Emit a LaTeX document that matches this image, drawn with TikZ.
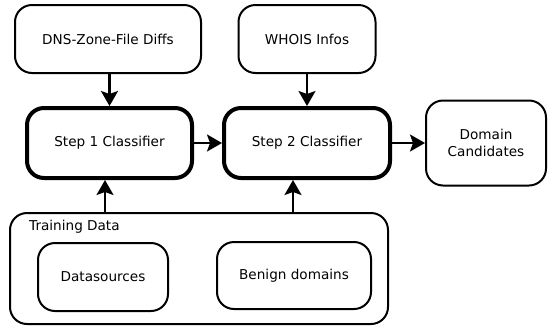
\documentclass[tikz,border=0pt]{standalone}
\usepackage{fontspec}
\setmainfont{DejaVu Sans}
\usetikzlibrary{arrows.meta}
\begin{document}
\begin{tikzpicture}[x=1pt,y=-1pt,
  box/.style={draw,line width=2pt,rounded corners=17pt,inner sep=0pt,align=center,font=\fontsize{13.6}{17}\selectfont},
  thickbox/.style={box,line width=4pt},
  arr/.style={line width=2.2pt,-{Stealth[length=15pt,width=17pt,inset=3pt]}}]
\useasboundingbox (0,0) rectangle (548,325);
\node[box,minimum width=186pt,minimum height=68pt] (dns) at (108,39) {DNS-Zone-File Diffs};
\node[box,minimum width=137pt,minimum height=68pt] (whois) at (307,39) {WHOIS Infos};
\node[thickbox,minimum width=165pt,minimum height=70pt] (s1) at (109.5,143) {Step 1 Classifier};
\node[thickbox,minimum width=166pt,minimum height=70pt] (s2) at (307,143) {Step 2 Classifier};
\node[box,minimum width=120pt,minimum height=85pt] (dom) at (486,143) {Domain\\Candidates};
\node[box,minimum width=378pt,minimum height=111pt] (td) at (199,268.5) {};
\node[anchor=west,inner sep=0pt,font=\fontsize{13.6}{17}\selectfont] (tdl) at (29,227) {Training Data};
\node[box,minimum width=130pt,minimum height=68pt] (ds) at (103,277) {Datasources};
\node[box,minimum width=154pt,minimum height=67pt] (bd) at (294,275.5) {Benign domains};
\draw[arr] (dns.south -| s1.north) -- (s1.north);
\draw[arr] (whois) -- (s2);
\draw[arr] (s1) -- (s2);
\draw[arr] (s2) -- (dom);
\draw[arr] (td.north -| 105,0) -- (s1.south -| 105,0);
\draw[arr] (td.north -| 293,0) -- (s2.south -| 293,0);
\end{tikzpicture}
\end{document}
